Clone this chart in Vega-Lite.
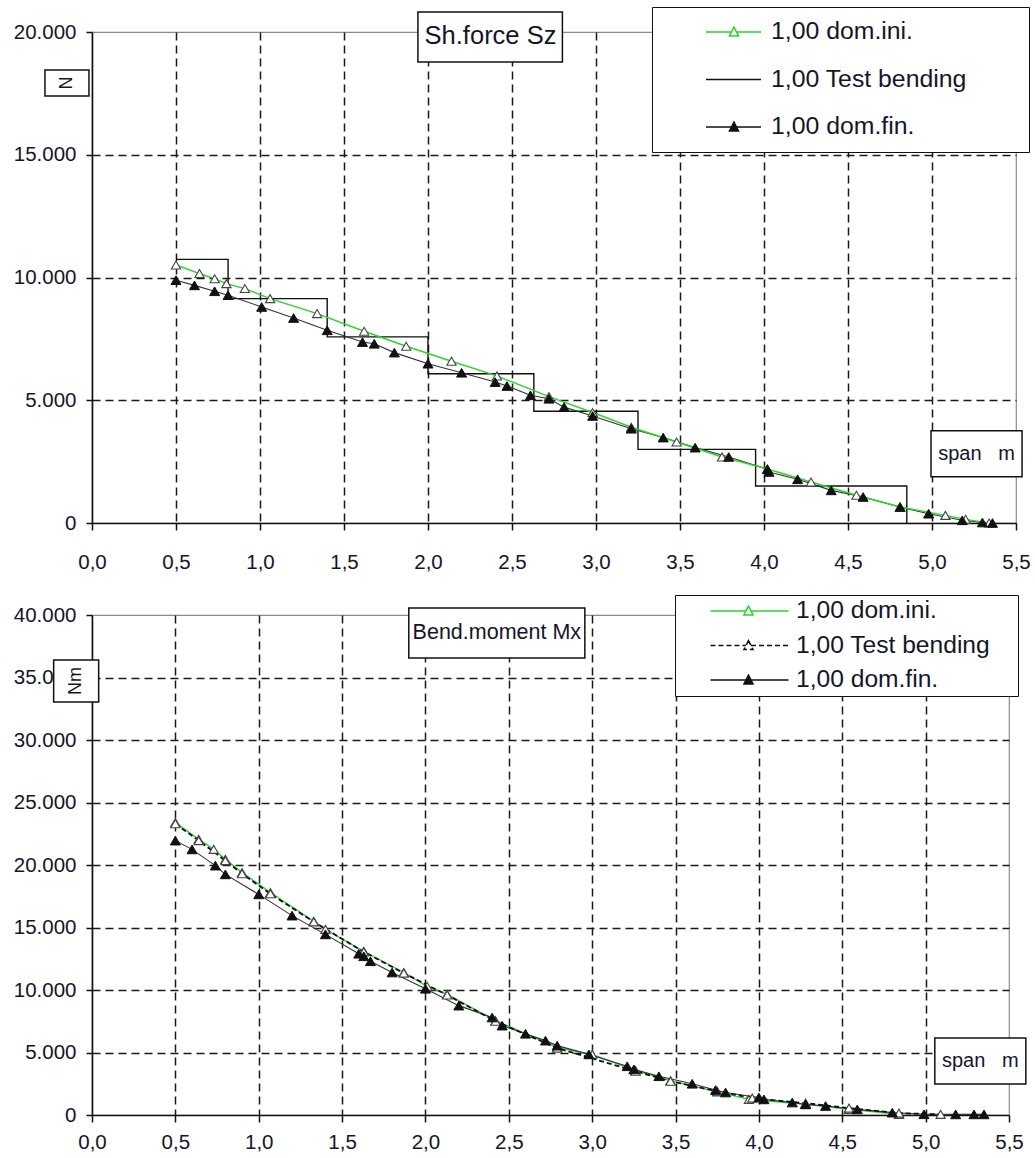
{
  "$schema": "https://vega.github.io/schema/vega-lite/v6.json",
  "background": "white",
  "padding": {"left": 12, "top": 5, "right": 0, "bottom": 0},
  "spacing": 19,
  "config": {
    "locale": {"number": {"decimal": ",", "thousands": ".", "grouping": [3], "currency": ["", " €"]}},
    "font": "Liberation Sans",
    "view": {"stroke": "#8c8c8c", "strokeWidth": 1.2},
    "legend": {"symbolFillColor": "white", "symbolOpacity": 1},
    "axis": {
      "labelFont": "Liberation Sans", "labelFontSize": 20.5, "labelColor": "#15152a",
      "domainColor": "#111", "domainWidth": 1.6, "tickColor": "#111", "tickWidth": 1.5, "tickSize": 7,
      "gridColor": "#1a1a1a", "gridDash": [8, 5], "gridWidth": 1.5,
      "labelFlush": false, "labelOverlap": false, "title": null
    }
  },
  "resolve": {
    "scale": {"stroke": "independent", "fill": "independent", "shape": "independent", "strokeDash": "independent"},
    "legend": {"stroke": "independent", "fill": "independent", "shape": "independent", "strokeDash": "independent"}
  },
  "datasets": {
    "sz": [
      {"series": "1,00 dom.ini.", "x": 0.50, "y": 10510},
      {"series": "1,00 dom.ini.", "x": 0.64, "y": 10160},
      {"series": "1,00 dom.ini.", "x": 0.73, "y": 9950},
      {"series": "1,00 dom.ini.", "x": 0.80, "y": 9750},
      {"series": "1,00 dom.ini.", "x": 0.91, "y": 9550},
      {"series": "1,00 dom.ini.", "x": 1.06, "y": 9140},
      {"series": "1,00 dom.ini.", "x": 1.34, "y": 8530},
      {"series": "1,00 dom.ini.", "x": 1.62, "y": 7810},
      {"series": "1,00 dom.ini.", "x": 1.87, "y": 7200},
      {"series": "1,00 dom.ini.", "x": 2.14, "y": 6590},
      {"series": "1,00 dom.ini.", "x": 2.41, "y": 5990},
      {"series": "1,00 dom.ini.", "x": 2.72, "y": 5150},
      {"series": "1,00 dom.ini.", "x": 2.98, "y": 4500},
      {"series": "1,00 dom.ini.", "x": 3.21, "y": 3900},
      {"series": "1,00 dom.ini.", "x": 3.48, "y": 3300},
      {"series": "1,00 dom.ini.", "x": 3.75, "y": 2690},
      {"series": "1,00 dom.ini.", "x": 4.02, "y": 2200},
      {"series": "1,00 dom.ini.", "x": 4.28, "y": 1670},
      {"series": "1,00 dom.ini.", "x": 4.55, "y": 1130},
      {"series": "1,00 dom.ini.", "x": 4.81, "y": 650},
      {"series": "1,00 dom.ini.", "x": 5.08, "y": 310},
      {"series": "1,00 dom.ini.", "x": 5.20, "y": 150},
      {"series": "1,00 dom.ini.", "x": 5.34, "y": 0},
      {"series": "1,00 Test bending", "x": 0.50, "y": 10740},
      {"series": "1,00 Test bending", "x": 0.81, "y": 9140},
      {"series": "1,00 Test bending", "x": 1.40, "y": 7580},
      {"series": "1,00 Test bending", "x": 2.00, "y": 6080},
      {"series": "1,00 Test bending", "x": 2.63, "y": 4550},
      {"series": "1,00 Test bending", "x": 3.25, "y": 3000},
      {"series": "1,00 Test bending", "x": 3.95, "y": 1510},
      {"series": "1,00 Test bending", "x": 4.85, "y": 0},
      {"series": "1,00 dom.fin.", "x": 0.50, "y": 9890},
      {"series": "1,00 dom.fin.", "x": 0.61, "y": 9680},
      {"series": "1,00 dom.fin.", "x": 0.73, "y": 9440},
      {"series": "1,00 dom.fin.", "x": 0.81, "y": 9280},
      {"series": "1,00 dom.fin.", "x": 1.01, "y": 8800},
      {"series": "1,00 dom.fin.", "x": 1.20, "y": 8350},
      {"series": "1,00 dom.fin.", "x": 1.40, "y": 7850},
      {"series": "1,00 dom.fin.", "x": 1.61, "y": 7370},
      {"series": "1,00 dom.fin.", "x": 1.68, "y": 7300},
      {"series": "1,00 dom.fin.", "x": 1.80, "y": 6940},
      {"series": "1,00 dom.fin.", "x": 2.00, "y": 6490},
      {"series": "1,00 dom.fin.", "x": 2.20, "y": 6120},
      {"series": "1,00 dom.fin.", "x": 2.40, "y": 5740},
      {"series": "1,00 dom.fin.", "x": 2.47, "y": 5580},
      {"series": "1,00 dom.fin.", "x": 2.61, "y": 5200},
      {"series": "1,00 dom.fin.", "x": 2.72, "y": 5060},
      {"series": "1,00 dom.fin.", "x": 2.81, "y": 4720},
      {"series": "1,00 dom.fin.", "x": 2.98, "y": 4360},
      {"series": "1,00 dom.fin.", "x": 3.21, "y": 3840},
      {"series": "1,00 dom.fin.", "x": 3.40, "y": 3480},
      {"series": "1,00 dom.fin.", "x": 3.59, "y": 3070},
      {"series": "1,00 dom.fin.", "x": 3.79, "y": 2690},
      {"series": "1,00 dom.fin.", "x": 4.02, "y": 2190},
      {"series": "1,00 dom.fin.", "x": 4.03, "y": 2080},
      {"series": "1,00 dom.fin.", "x": 4.20, "y": 1780},
      {"series": "1,00 dom.fin.", "x": 4.40, "y": 1330},
      {"series": "1,00 dom.fin.", "x": 4.59, "y": 1060},
      {"series": "1,00 dom.fin.", "x": 4.81, "y": 650},
      {"series": "1,00 dom.fin.", "x": 4.98, "y": 380},
      {"series": "1,00 dom.fin.", "x": 5.18, "y": 110},
      {"series": "1,00 dom.fin.", "x": 5.30, "y": 20},
      {"series": "1,00 dom.fin.", "x": 5.36, "y": 0}
    ],
    "mx": [
      {"series": "1,00 dom.ini.", "x": 0.50, "y": 23400},
      {"series": "1,00 dom.ini.", "x": 0.64, "y": 22050},
      {"series": "1,00 dom.ini.", "x": 0.73, "y": 21250},
      {"series": "1,00 dom.ini.", "x": 0.80, "y": 20450},
      {"series": "1,00 dom.ini.", "x": 0.90, "y": 19400},
      {"series": "1,00 dom.ini.", "x": 1.07, "y": 17800},
      {"series": "1,00 dom.ini.", "x": 1.33, "y": 15500},
      {"series": "1,00 dom.ini.", "x": 1.40, "y": 14850},
      {"series": "1,00 dom.ini.", "x": 1.63, "y": 13100},
      {"series": "1,00 dom.ini.", "x": 1.87, "y": 11400},
      {"series": "1,00 dom.ini.", "x": 2.01, "y": 10300},
      {"series": "1,00 dom.ini.", "x": 2.13, "y": 9650},
      {"series": "1,00 dom.ini.", "x": 2.42, "y": 7550},
      {"series": "1,00 dom.ini.", "x": 2.79, "y": 5400},
      {"series": "1,00 dom.ini.", "x": 3.00, "y": 4850},
      {"series": "1,00 dom.ini.", "x": 3.26, "y": 3550},
      {"series": "1,00 dom.ini.", "x": 3.47, "y": 2750},
      {"series": "1,00 dom.ini.", "x": 3.75, "y": 1850},
      {"series": "1,00 dom.ini.", "x": 3.94, "y": 1250},
      {"series": "1,00 dom.ini.", "x": 4.28, "y": 850},
      {"series": "1,00 dom.ini.", "x": 4.54, "y": 450},
      {"series": "1,00 dom.ini.", "x": 4.84, "y": 50},
      {"series": "1,00 Test bending", "x": 0.50, "y": 23300},
      {"series": "1,00 Test bending", "x": 0.64, "y": 21950},
      {"series": "1,00 Test bending", "x": 0.80, "y": 20350},
      {"series": "1,00 Test bending", "x": 0.90, "y": 19300},
      {"series": "1,00 Test bending", "x": 1.07, "y": 17700},
      {"series": "1,00 Test bending", "x": 1.33, "y": 15450},
      {"series": "1,00 Test bending", "x": 1.63, "y": 13050},
      {"series": "1,00 Test bending", "x": 1.87, "y": 11350},
      {"series": "1,00 Test bending", "x": 2.13, "y": 9600},
      {"series": "1,00 Test bending", "x": 2.42, "y": 7500},
      {"series": "1,00 Test bending", "x": 2.79, "y": 5350},
      {"series": "1,00 Test bending", "x": 3.26, "y": 3500},
      {"series": "1,00 Test bending", "x": 3.47, "y": 2700},
      {"series": "1,00 Test bending", "x": 3.75, "y": 1900},
      {"series": "1,00 Test bending", "x": 3.96, "y": 1350},
      {"series": "1,00 Test bending", "x": 4.28, "y": 950},
      {"series": "1,00 Test bending", "x": 4.54, "y": 550},
      {"series": "1,00 Test bending", "x": 4.84, "y": 150},
      {"series": "1,00 Test bending", "x": 5.09, "y": 50},
      {"series": "1,00 dom.fin.", "x": 0.50, "y": 21950},
      {"series": "1,00 dom.fin.", "x": 0.60, "y": 21250},
      {"series": "1,00 dom.fin.", "x": 0.74, "y": 19950},
      {"series": "1,00 dom.fin.", "x": 0.80, "y": 19250},
      {"series": "1,00 dom.fin.", "x": 1.00, "y": 17650},
      {"series": "1,00 dom.fin.", "x": 1.20, "y": 15950},
      {"series": "1,00 dom.fin.", "x": 1.40, "y": 14450},
      {"series": "1,00 dom.fin.", "x": 1.60, "y": 12900},
      {"series": "1,00 dom.fin.", "x": 1.63, "y": 12700},
      {"series": "1,00 dom.fin.", "x": 1.67, "y": 12300},
      {"series": "1,00 dom.fin.", "x": 1.80, "y": 11400},
      {"series": "1,00 dom.fin.", "x": 2.00, "y": 10100},
      {"series": "1,00 dom.fin.", "x": 2.20, "y": 8750},
      {"series": "1,00 dom.fin.", "x": 2.40, "y": 7800},
      {"series": "1,00 dom.fin.", "x": 2.46, "y": 7150},
      {"series": "1,00 dom.fin.", "x": 2.60, "y": 6500},
      {"series": "1,00 dom.fin.", "x": 2.72, "y": 5950},
      {"series": "1,00 dom.fin.", "x": 2.79, "y": 5550},
      {"series": "1,00 dom.fin.", "x": 2.98, "y": 4850},
      {"series": "1,00 dom.fin.", "x": 3.21, "y": 3900},
      {"series": "1,00 dom.fin.", "x": 3.25, "y": 3650},
      {"series": "1,00 dom.fin.", "x": 3.40, "y": 3100},
      {"series": "1,00 dom.fin.", "x": 3.60, "y": 2500},
      {"series": "1,00 dom.fin.", "x": 3.74, "y": 2000},
      {"series": "1,00 dom.fin.", "x": 3.80, "y": 1800},
      {"series": "1,00 dom.fin.", "x": 4.00, "y": 1400},
      {"series": "1,00 dom.fin.", "x": 4.03, "y": 1250},
      {"series": "1,00 dom.fin.", "x": 4.20, "y": 1000},
      {"series": "1,00 dom.fin.", "x": 4.28, "y": 850},
      {"series": "1,00 dom.fin.", "x": 4.40, "y": 720},
      {"series": "1,00 dom.fin.", "x": 4.59, "y": 450},
      {"series": "1,00 dom.fin.", "x": 4.80, "y": 190},
      {"series": "1,00 dom.fin.", "x": 4.99, "y": 60},
      {"series": "1,00 dom.fin.", "x": 5.18, "y": 50},
      {"series": "1,00 dom.fin.", "x": 5.29, "y": 50},
      {"series": "1,00 dom.fin.", "x": 5.35, "y": 50}
    ],
    "boxesTop": [
      {"label": "Sh.force Sz", "x": 1.94, "x2": 2.80, "y": 20815, "y2": 18780},
      {"label": "N", "x": -0.28, "x2": -0.018, "y": 18454, "y2": 17396},
      {"label": "span m", "x": 4.994, "x2": 5.536, "y": 3758, "y2": 1885}
    ],
    "labelsTop": [
      {"label": "Sh.force Sz", "x": 2.372, "y": 19840},
      {"label": "N", "x": -0.149, "y": 17925},
      {"label": "span \u00a0 m", "x": 5.265, "y": 2821}
    ],
    "boxesBot": [
      {"label": "Bend.moment Mx", "x": 1.90, "x2": 2.956, "y": 40560, "y2": 36560},
      {"label": "Nm", "x": -0.23, "x2": 0.04, "y": 36400, "y2": 33040},
      {"label": "span m", "x": 5.055, "x2": 5.601, "y": 6160, "y2": 2480}
    ],
    "labelsBot": [
      {"label": "Bend.moment Mx", "x": 2.428, "y": 38560},
      {"label": "Nm", "x": -0.095, "y": 34720},
      {"label": "span \u00a0 m", "x": 5.328, "y": 4320}
    ]
  },
  "vconcat": [
    {
      "width": 924,
      "height": 491,
      "encoding": {
        "x": {"field": "x", "type": "quantitative",
              "scale": {"domain": [0, 5.5], "nice": false, "zero": false},
              "axis": {"values": [0, 0.5, 1, 1.5, 2, 2.5, 3, 3.5, 4, 4.5, 5, 5.5], "format": ".1f", "labelPadding": 22,
                       "gridOpacity": {"condition": {"test": "datum.value > 5.4 || datum.value < 0.1", "value": 0}, "value": 1}}},
        "y": {"field": "y", "type": "quantitative",
              "scale": {"domain": [0, 20000], "nice": false, "zero": false},
              "axis": {"values": [0, 5000, 10000, 15000, 20000], "format": ",d", "labelPadding": 10, "tickSize": 6,
                       "gridOpacity": {"condition": {"test": "datum.value > 19000 || datum.value < 1", "value": 0}, "value": 1}}}
      },
      "layer": [
        {"data": {"name": "sz"}, "transform": [{"filter": "datum.series == '1,00 Test bending'"}],
         "mark": {"type": "line", "interpolate": "step-after", "color": "#111", "strokeWidth": 1.4}},
        {"data": {"name": "sz"}, "transform": [{"filter": "datum.series == '1,00 dom.fin.'"}],
         "mark": {"type": "line", "color": "#333", "strokeWidth": 1.1}},
        {"data": {"name": "sz"}, "transform": [{"filter": "datum.series == '1,00 dom.ini.'"}],
         "mark": {"type": "line", "color": "#2ad62a", "strokeWidth": 1.4}},
        {"data": {"name": "sz"}, "transform": [{"filter": "datum.series == '1,00 dom.ini.'"}],
         "mark": {"type": "point", "shape": "triangle-up", "filled": true, "fill": "white", "stroke": "#444", "strokeWidth": 1.1, "size": 85, "opacity": 1}},
        {"data": {"name": "sz"}, "transform": [{"filter": "datum.series == '1,00 dom.fin.'"}],
         "mark": {"type": "point", "shape": "triangle-up", "filled": true, "fill": "#111", "stroke": "#111", "strokeWidth": 1, "size": 100, "opacity": 1}},
        {"data": {"name": "sz"}, "transform": [{"filter": "false"}],
         "mark": {"type": "point", "filled": true, "strokeWidth": 1.2},
         "encoding": {
           "stroke": {"field": "series", "type": "nominal",
                      "scale": {"domain": ["1,00 dom.ini.", "1,00 Test bending", "1,00 dom.fin."], "range": ["#2ad62a", "#111", "#111"]},
                      "legend": {"title": " ", "orient": "none", "legendX": 560, "legendY": -25, "direction": "vertical", "padding": 8, "clipHeight": 34, "rowPadding": 13.5, "symbolSize": 10712, "labelOffset": 6, "labelFontSize": 24.8, "labelFont": "Liberation Sans", "labelColor": "#15152a", "labelLimit": 400, "strokeColor": "#111", "fillColor": "white", "titleOrient": "right", "titleFontSize": 2, "titlePadding": 54, "symbolFillColor": "white"}},
           "fill": {"field": "series", "type": "nominal",
                    "scale": {"domain": ["1,00 dom.ini.", "1,00 Test bending", "1,00 dom.fin."], "range": ["white", "#111", "#111"]},
                    "legend": {"title": " ", "orient": "none", "legendX": 560, "legendY": -25, "direction": "vertical", "padding": 8, "clipHeight": 34, "rowPadding": 13.5, "symbolSize": 10712, "labelOffset": 6, "labelFontSize": 24.8, "labelFont": "Liberation Sans", "labelColor": "#15152a", "labelLimit": 400, "strokeColor": "#111", "fillColor": "white", "titleOrient": "right", "titleFontSize": 2, "titlePadding": 54, "symbolFillColor": "white"}},
           "shape": {"field": "series", "type": "nominal",
                     "scale": {"domain": ["1,00 dom.ini.", "1,00 Test bending", "1,00 dom.fin."],
                               "range": ["M-0.126,0H0.366M0.464,0H0.937M0.415,-0.095L0.502,0.075H0.328Z", "M-0.126,0H0.937", "M-0.126,0H0.366M0.464,0H0.937M0.415,-0.095L0.502,0.075H0.328Z"]},
                     "legend": {"title": " ", "orient": "none", "legendX": 560, "legendY": -25, "direction": "vertical", "padding": 8, "clipHeight": 34, "rowPadding": 13.5, "symbolSize": 10712, "labelOffset": 6, "labelFontSize": 24.8, "labelFont": "Liberation Sans", "labelColor": "#15152a", "labelLimit": 400, "strokeColor": "#111", "fillColor": "white", "titleOrient": "right", "titleFontSize": 2, "titlePadding": 54, "symbolFillColor": "white"}}
         }},
        {"data": {"name": "boxesTop"},
         "mark": {"type": "rect", "fill": "white", "stroke": "#111", "strokeWidth": 1.5},
         "encoding": {"x2": {"field": "x2"}, "y2": {"field": "y2"}}},
        {"data": {"name": "labelsTop"}, "transform": [{"filter": "datum.label == 'Sh.force Sz'"}],
         "mark": {"type": "text", "fontSize": 25.5, "align": "center", "baseline": "middle", "color": "#15152a", "font": "Liberation Sans"},
         "encoding": {"text": {"field": "label"}}},
        {"data": {"name": "labelsTop"}, "transform": [{"filter": "datum.label != 'Sh.force Sz' && datum.label != 'N'"}],
         "mark": {"type": "text", "fontSize": 20, "align": "center", "baseline": "middle", "color": "#15152a", "font": "Liberation Sans"},
         "encoding": {"text": {"field": "label"}}},
        {"data": {"name": "labelsTop"}, "transform": [{"filter": "datum.label == 'N'"}],
         "mark": {"type": "text", "fontSize": 18, "align": "center", "baseline": "middle", "angle": 270, "color": "#15152a", "font": "Liberation Sans"},
         "encoding": {"text": {"field": "label"}}}
      ]
    },
    {
      "width": 917,
      "height": 500,
      "encoding": {
        "x": {"field": "x", "type": "quantitative",
              "scale": {"domain": [0, 5.5], "nice": false, "zero": false},
              "axis": {"values": [0, 0.5, 1, 1.5, 2, 2.5, 3, 3.5, 4, 4.5, 5, 5.5], "format": ".1f", "labelPadding": 10,
                       "gridOpacity": {"condition": {"test": "datum.value > 5.4 || datum.value < 0.1", "value": 0}, "value": 1}}},
        "y": {"field": "y", "type": "quantitative",
              "scale": {"domain": [0, 40000], "nice": false, "zero": false},
              "axis": {"values": [0, 5000, 10000, 15000, 20000, 25000, 30000, 35000, 40000], "format": ",d", "labelPadding": 10, "tickSize": 6,
                       "gridOpacity": {"condition": {"test": "datum.value > 39000 || datum.value < 1", "value": 0}, "value": 1}}}
      },
      "layer": [
        {"data": {"name": "mx"}, "transform": [{"filter": "datum.series == '1,00 dom.ini.'"}],
         "mark": {"type": "line", "color": "#2ad62a", "strokeWidth": 1.4}},
        {"data": {"name": "mx"}, "transform": [{"filter": "datum.series == '1,00 dom.fin.'"}],
         "mark": {"type": "line", "color": "#333", "strokeWidth": 1.1}},
        {"data": {"name": "mx"}, "transform": [{"filter": "datum.series == '1,00 Test bending'"}],
         "mark": {"type": "line", "color": "#111", "strokeWidth": 1.8, "strokeDash": [5, 3]}},
        {"data": {"name": "mx"}, "transform": [{"filter": "datum.series != '1,00 dom.fin.'"}],
         "mark": {"type": "point", "shape": "triangle-up", "filled": true, "fill": "white", "stroke": "#444", "strokeWidth": 1.1, "size": 85, "opacity": 1}},
        {"data": {"name": "mx"}, "transform": [{"filter": "datum.series == '1,00 dom.fin.'"}],
         "mark": {"type": "point", "shape": "triangle-up", "filled": true, "fill": "#111", "stroke": "#111", "strokeWidth": 1, "size": 100, "opacity": 1}},
        {"data": {"name": "mx"}, "transform": [{"filter": "false"}],
         "mark": {"type": "point", "filled": true, "strokeWidth": 1.2},
         "encoding": {
           "stroke": {"field": "series", "type": "nominal",
                      "scale": {"domain": ["1,00 dom.ini.", "1,00 Test bending", "1,00 dom.fin."], "range": ["#2ad62a", "#111", "#111"]},
                      "legend": {"title": " ", "orient": "none", "legendX": 583, "legendY": -20, "direction": "vertical", "padding": 3, "clipHeight": 26, "rowPadding": 8.5, "symbolSize": 12056, "labelOffset": 6, "labelFontSize": 24.6, "labelFont": "Liberation Sans", "labelColor": "#15152a", "labelLimit": 400, "strokeColor": "#111", "fillColor": "white", "titleOrient": "right", "titleFontSize": 2, "titlePadding": 25, "symbolFillColor": "white"}},
           "fill": {"field": "series", "type": "nominal",
                    "scale": {"domain": ["1,00 dom.ini.", "1,00 Test bending", "1,00 dom.fin."], "range": ["white", "white", "#111"]},
                    "legend": {"title": " ", "orient": "none", "legendX": 583, "legendY": -20, "direction": "vertical", "padding": 3, "clipHeight": 26, "rowPadding": 8.5, "symbolSize": 12056, "labelOffset": 6, "labelFontSize": 24.6, "labelFont": "Liberation Sans", "labelColor": "#15152a", "labelLimit": 400, "strokeColor": "#111", "fillColor": "white", "titleOrient": "right", "titleFontSize": 2, "titlePadding": 25, "symbolFillColor": "white"}},
           "shape": {"field": "series", "type": "nominal",
                     "scale": {"domain": ["1,00 dom.ini.", "1,00 Test bending", "1,00 dom.fin."],
                               "range": ["M-0.428,0H0.218M0.310,0H0.993M0.264,-0.089L0.346,0.071H0.182Z", "M-0.428,0H0.218M0.310,0H0.993M0.264,-0.089L0.346,0.071H0.182Z", "M-0.428,0H0.218M0.310,0H0.993M0.264,-0.089L0.346,0.071H0.182Z"]},
                     "legend": {"title": " ", "orient": "none", "legendX": 583, "legendY": -20, "direction": "vertical", "padding": 3, "clipHeight": 26, "rowPadding": 8.5, "symbolSize": 12056, "labelOffset": 6, "labelFontSize": 24.6, "labelFont": "Liberation Sans", "labelColor": "#15152a", "labelLimit": 400, "strokeColor": "#111", "fillColor": "white", "titleOrient": "right", "titleFontSize": 2, "titlePadding": 25, "symbolFillColor": "white"}},
           "strokeDash": {"field": "series", "type": "nominal",
                          "scale": {"domain": ["1,00 dom.ini.", "1,00 Test bending", "1,00 dom.fin."], "range": [[1, 0], [5, 3], [1, 0]]},
                          "legend": {"title": " ", "orient": "none", "legendX": 583, "legendY": -20, "direction": "vertical", "padding": 3, "clipHeight": 26, "rowPadding": 8.5, "symbolSize": 12056, "labelOffset": 6, "labelFontSize": 24.6, "labelFont": "Liberation Sans", "labelColor": "#15152a", "labelLimit": 400, "strokeColor": "#111", "fillColor": "white", "titleOrient": "right", "titleFontSize": 2, "titlePadding": 25, "symbolFillColor": "white"}}
         }},
        {"data": {"name": "boxesBot"},
         "mark": {"type": "rect", "fill": "white", "stroke": "#111", "strokeWidth": 1.5},
         "encoding": {"x2": {"field": "x2"}, "y2": {"field": "y2"}}},
        {"data": {"name": "labelsBot"}, "transform": [{"filter": "datum.label == 'Bend.moment Mx'"}],
         "mark": {"type": "text", "fontSize": 21.5, "align": "center", "baseline": "middle", "color": "#15152a", "font": "Liberation Sans"},
         "encoding": {"text": {"field": "label"}}},
        {"data": {"name": "labelsBot"}, "transform": [{"filter": "datum.label != 'Bend.moment Mx' && datum.label != 'Nm'"}],
         "mark": {"type": "text", "fontSize": 20, "align": "center", "baseline": "middle", "color": "#15152a", "font": "Liberation Sans"},
         "encoding": {"text": {"field": "label"}}},
        {"data": {"name": "labelsBot"}, "transform": [{"filter": "datum.label == 'Nm'"}],
         "mark": {"type": "text", "fontSize": 18, "align": "center", "baseline": "middle", "angle": 270, "color": "#15152a", "font": "Liberation Sans"},
         "encoding": {"text": {"field": "label"}}}
      ]
    }
  ]
}
